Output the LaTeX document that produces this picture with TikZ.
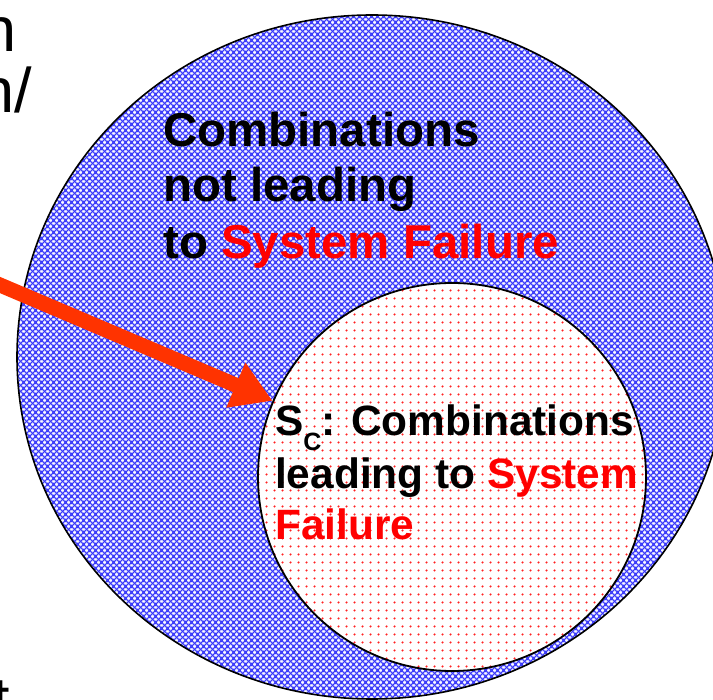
\documentclass[tikz,border=0pt]{standalone}
\usepackage{fontspec}
\setmainfont{Liberation Sans}
\usetikzlibrary{arrows.meta,shapes.geometric,patterns.meta}
\definecolor{arrowred}{RGB}{255,51,0}
\definecolor{failred}{RGB}{255,0,0}
\definecolor{bluebg}{RGB}{205,205,255}
\definecolor{blueline}{RGB}{55,55,250}
\definecolor{dotred}{RGB}{255,35,35}

\tikzdeclarepattern{
  name=bluegrid,
  type=colored,
  bounding box={(0pt,0pt) and (6pt,6pt)},
  tile size={(6pt,6pt)},
  code={
    \fill[bluebg] (0pt,0pt) rectangle (6pt,6pt);
    \draw[blueline, line width=1.05pt]
      (-1pt,-1pt) -- (7pt,7pt) (5pt,-1pt) -- (7pt,1pt) (-1pt,5pt) -- (1pt,7pt)
      (-1pt,7pt) -- (7pt,-1pt) (-1pt,1pt) -- (1pt,-1pt) (5pt,7pt) -- (7pt,5pt);
    \fill[white] (3pt,0pt) circle (0.8pt) (0pt,3pt) circle (0.8pt)
                 (6pt,3pt) circle (0.8pt) (3pt,6pt) circle (0.8pt);
  }
}
\tikzdeclarepattern{
  name=reddots,
  type=colored,
  bounding box={(0pt,0pt) and (7.5pt,7.5pt)},
  tile size={(7.5pt,7.5pt)},
  code={
    \fill[dotred] (3.75pt,3.75pt) circle (1.3pt);
  }
}

\tikzset{
  bigset/.style={ellipse, draw=black, line width=1.6pt, inner sep=0pt,
    minimum width=710pt, minimum height=684pt, pattern=bluegrid},
  smallset/.style={circle, draw=black, line width=1.8pt, inner sep=0pt,
    minimum size=388pt, preaction={fill=white}, pattern=reddots},
  fatarrow/.style={draw=arrowred, line width=15pt,
    -{Triangle[length=40pt,width=46pt]}},
  outertxt/.style={inner sep=0pt, anchor=base west,
    font=\bfseries\fontsize{47.5}{56}\selectfont},
  innertxt/.style={inner sep=0pt, anchor=base west,
    font=\bfseries\fontsize{42.4}{52}\selectfont},
  edgetxt/.style={inner sep=0pt, anchor=base east,
    font=\fontsize{63}{63}\selectfont}
}

\begin{document}
\begin{tikzpicture}[x=1pt,y=-1pt]
\useasboundingbox (0,0) rectangle (713,700);
\clip (0,0) rectangle (713,700);

\node[bigset] (all) at (372,357) {};
\node[smallset] (sc) at (452,477) {};

\coordinate (src) at (-20,276.5);
\draw[fatarrow] (src) -- (sc);

\node[outertxt] (o1) at (163,147) {Combinations};
\node[outertxt] (o2) at (163,202) {not leading};
\node[outertxt] (o3) at (163,259) {to \textcolor{failred}{System Failure}};

\node[innertxt] (i1) at (275,436) {S\raisebox{-15pt}{\fontsize{25}{25}\selectfont C}: Combinations};
\node[innertxt] (i2) at (275,489) {leading to \textcolor{failred}{System}};
\node[innertxt] (i3) at (275,540) {\textcolor{failred}{Failure}};

\node[edgetxt] (e1) at (17,52) {n};
\node[edgetxt] (e2) at (32,113) {n/};
\node[edgetxt] (e3) at (10.5,721) {t};
\end{tikzpicture}
\end{document}
